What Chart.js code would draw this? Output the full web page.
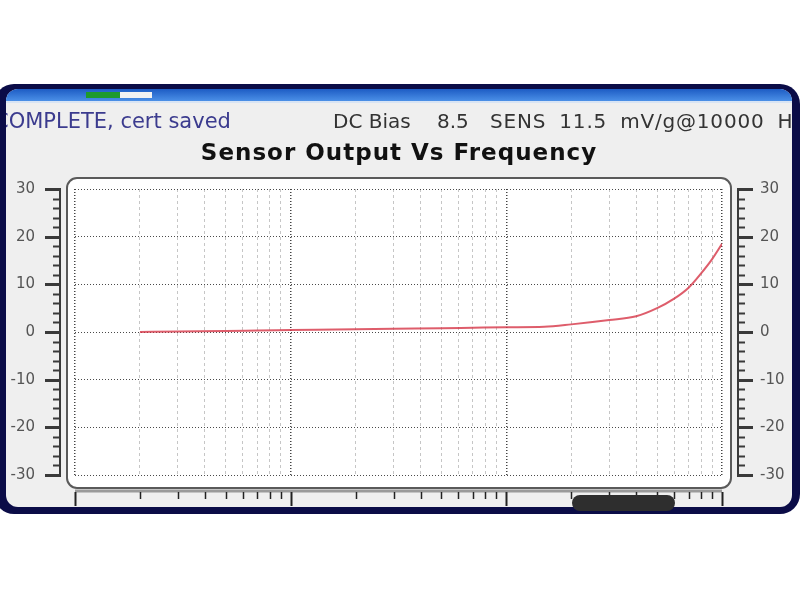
<!DOCTYPE html>
<html>
<head>
<meta charset="utf-8">
<script src="https://cdn.jsdelivr.net/npm/chart.js@4.4.1/dist/chart.umd.min.js"></script>
<style>
  html, body { margin: 0; padding: 0; background: #fff; }
  #wrap { width: 800px; height: 600px; }
</style>
</head>
<body>
<div id="wrap"><canvas id="chart" width="800" height="600"></canvas></div>
<script>
// sweep points
const freqHz = [20, 30, 50, 70, 100, 200, 300, 500, 700, 1000, 1500, 2000, 3000, 4000, 5000, 6000, 7000, 8000, 9000, 10000];
const outputVal = [0.0, 0.1, 0.2, 0.3, 0.4, 0.6, 0.7, 0.8, 0.9, 1.0, 1.1, 1.6, 2.5, 3.3, 5.0, 7.0, 9.3, 12.3, 15.3, 18.5];

// log grid on the frequency axis
const freqTicks = [10, 20, 30, 40, 50, 60, 70, 80, 90,
                   100, 200, 300, 400, 500, 600, 700, 800, 900,
                   1000, 2000, 3000, 4000, 5000, 6000, 7000, 8000, 9000, 10000];
const freqDecades = [10, 100, 1000, 10000];

const yMin = -30, yMax = 30, yMajorStep = 10, yMinorStep = 2;

const statusText = 'COMPLETE, cert saved';
const biasLabel = 'DC Bias';
const biasValue = '8.5';
const sensText = 'SENS 11.5 mV/g@10000 Hz';
const titleText = 'Sensor Output Vs Frequency';

const FONT = '"DejaVu Sans", "Liberation Sans", sans-serif';

function rr(ctx, x, y, w, h, r) {
    ctx.beginPath();
    ctx.moveTo(x + r, y);
    ctx.lineTo(x + w - r, y);
    ctx.arcTo(x + w, y, x + w, y + r, r);
    ctx.lineTo(x + w, y + h - r);
    ctx.arcTo(x + w, y + h, x + w - r, y + h, r);
    ctx.lineTo(x + r, y + h);
    ctx.arcTo(x, y + h, x, y + h - r, r);
    ctx.lineTo(x, y + r);
    ctx.arcTo(x, y, x + r, y, r);
    ctx.closePath();
}

// screen frame, status line, title and the white plot panel
const screenPlugin = {
    id: 'screen',
    beforeDraw(chart) {
        const ctx = chart.ctx;
        const ca = chart.chartArea;
        ctx.save();
        ctx.fillStyle = '#ffffff';
        ctx.fillRect(0, 0, chart.width, chart.height);

        ctx.fillStyle = '#0b0c47';
        rr(ctx, -6, 84, 806, 430, 20);
        ctx.fill();

        ctx.save();
        rr(ctx, 6, 89, 786, 418, 12);
        ctx.fillStyle = '#efefef';
        ctx.fill();
        ctx.clip();

        const grad = ctx.createLinearGradient(0, 89, 0, 102);
        grad.addColorStop(0, '#1d5cc4');
        grad.addColorStop(1, '#4f94ea');
        ctx.fillStyle = grad;
        ctx.fillRect(6, 89, 786, 12);
        ctx.fillStyle = '#d8e4f4';
        ctx.fillRect(6, 101, 786, 2);

        // battery / progress gauge in the title bar
        ctx.fillStyle = '#1e9a2c';
        ctx.fillRect(86, 92, 34, 6);
        ctx.fillStyle = '#f2f2f2';
        ctx.fillRect(120, 92, 32, 6);

        ctx.textBaseline = 'alphabetic';
        ctx.textAlign = 'left';
        ctx.font = '21px ' + FONT;
        ctx.fillStyle = '#3b3b8e';
        ctx.fillText(statusText, -6, 128);
        ctx.fillStyle = '#333333';
        ctx.font = '20px ' + FONT;
        ctx.fillText(biasLabel, 333, 128);
        ctx.fillText(biasValue, 437, 128);
        ctx.letterSpacing = '0.8px';
        ctx.wordSpacing = '6px';
        ctx.fillText(sensText, 490, 128);
        ctx.letterSpacing = '0px';
        ctx.wordSpacing = '0px';
        ctx.restore();

        ctx.font = 'bold 23px ' + FONT;
        ctx.letterSpacing = '1px';
        ctx.textAlign = 'center';
        ctx.fillStyle = '#111111';
        ctx.fillText(titleText, 399, 160);
        ctx.letterSpacing = '0px';

        rr(ctx, ca.left - 8, ca.top - 11, ca.right - ca.left + 17, ca.bottom - ca.top + 24, 10);
        ctx.fillStyle = '#ffffff';
        ctx.fill();
        ctx.lineWidth = 2;
        ctx.strokeStyle = '#5a5a5a';
        ctx.stroke();
        ctx.restore();
    },
    afterDraw(chart) {
        const ctx = chart.ctx;
        const ca = chart.chartArea;
        const ys = chart.scales.y;
        const xs = chart.scales.x;
        ctx.save();
        ctx.strokeStyle = '#3a3a3a';

        // bracket style value axes on both sides
        const lx = ca.left - 15, rx = ca.right + 16;
        ctx.lineWidth = 2;
        ctx.beginPath();
        ctx.moveTo(lx, ys.getPixelForValue(yMax));
        ctx.lineTo(lx, ys.getPixelForValue(yMin));
        ctx.moveTo(rx, ys.getPixelForValue(yMax));
        ctx.lineTo(rx, ys.getPixelForValue(yMin));
        ctx.stroke();
        for (let v = yMin; v <= yMax; v += yMinorStep) {
            const major = v % yMajorStep === 0;
            const py = Math.round(ys.getPixelForValue(v)) + 0.5;
            const len = major ? 15 : 7;
            ctx.lineWidth = major ? 3 : 2;
            ctx.beginPath();
            ctx.moveTo(lx + 1, py);
            ctx.lineTo(lx - len, py);
            ctx.moveTo(rx - 1, py);
            ctx.lineTo(rx + len, py);
            ctx.stroke();
        }

        // frequency ruler under the panel
        const by = ca.bottom + 16;
        ctx.strokeStyle = '#9a9a9a';
        ctx.lineWidth = 3;
        ctx.beginPath();
        ctx.moveTo(ca.left, by);
        ctx.lineTo(ca.right, by);
        ctx.stroke();
        ctx.strokeStyle = '#222222';
        freqTicks.forEach(v => {
            const px = Math.round(xs.getPixelForValue(v)) + 0.5;
            const major = freqDecades.includes(v);
            ctx.lineWidth = major ? 2 : 1.5;
            ctx.beginPath();
            ctx.moveTo(px, by + 1);
            ctx.lineTo(px, by + (major ? 15 : 8));
            ctx.stroke();
        });

        // scroll thumb
        ctx.fillStyle = '#2e2e2e';
        rr(ctx, 572, by + 4, 103, 16, 8);
        ctx.fill();
        ctx.restore();
    }
};

new Chart(document.getElementById('chart'), {
    type: 'line',
    data: {
        datasets: [{
            data: freqHz.map((f, i) => ({ x: f, y: outputVal[i] })),
            borderColor: 'rgba(214, 52, 70, 0.8)',
            borderWidth: 2,
            pointRadius: 0,
            cubicInterpolationMode: 'monotone',
            yAxisID: 'y'
        }]
    },
    options: {
        responsive: false,
        devicePixelRatio: 1,
        animation: false,
        layout: { padding: { top: 189, bottom: 125, left: 0, right: 0 } },
        plugins: { legend: { display: false }, tooltip: { enabled: false }, title: { display: false } },
        scales: {
            x: {
                type: 'logarithmic',
                min: 10,
                max: 10000,
                afterBuildTicks: s => { s.ticks = freqTicks.map(v => ({ value: v })); },
                afterFit: s => { s.height = 0; },
                ticks: { display: false, autoSkip: false },
                grid: {
                    drawTicks: false,
                    color: c => (c.tick && freqDecades.includes(c.tick.value)) ? '#444444' : '#c6c6c6',
                    lineWidth: c => (c.tick && freqDecades.includes(c.tick.value)) ? 1.5 : 1
                },
                border: {
                    display: false,
                    dash: c => (c.tick && freqDecades.includes(c.tick.value)) ? [1, 2] : [3, 3]
                }
            },
            y: {
                position: 'left',
                min: yMin,
                max: yMax,
                afterFit: s => { s.width = 75; },
                ticks: { stepSize: yMajorStep, padding: 40, color: '#555555', font: { family: FONT, size: 15 } },
                grid: { drawTicks: false, color: '#4a4a4a', lineWidth: 1 },
                border: { display: false, dash: [1, 2] }
            },
            y2: {
                position: 'right',
                min: yMin,
                max: yMax,
                afterFit: s => { s.width = 78; },
                ticks: { stepSize: yMajorStep, padding: 38, color: '#555555', font: { family: FONT, size: 15 } },
                grid: { drawTicks: false, drawOnChartArea: false },
                border: { display: false }
            }
        }
    },
    plugins: [screenPlugin]
});
</script>
</body>
</html>
